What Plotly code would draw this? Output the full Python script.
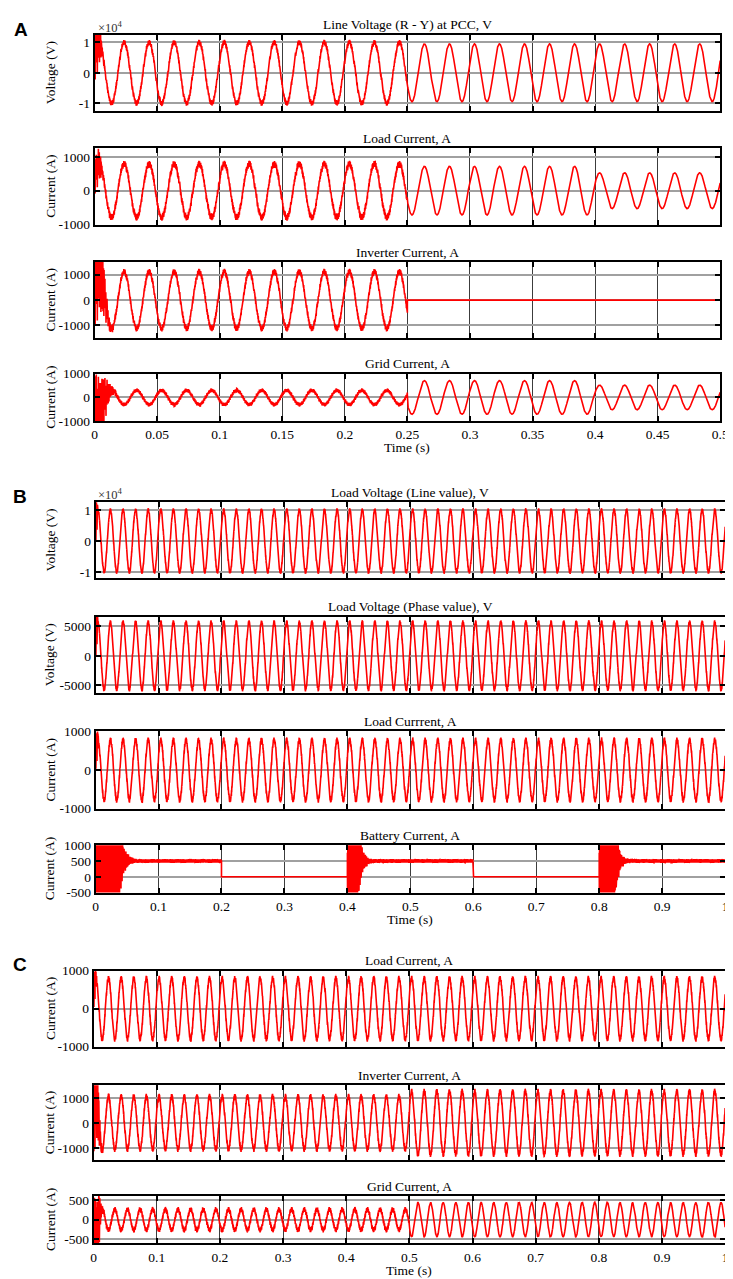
import numpy as np
import plotly.graph_objects as go

W, H = 733, 1279
FREQ_HZ = 50.0
PHASE_RAD = 0.44
DT = 2.5e-5

# ---------------- data ----------------
# Panel A (0 - 0.5 s)
A_T_END = 0.5
A_XTICKS = [0, 0.05, 0.1, 0.15, 0.2, 0.25, 0.3, 0.35, 0.4, 0.45, 0.5]
A_XTICK_TEXT = ["0", "0.05", "0.1", "0.15", "0.2", "0.25", "0.3", "0.35", "0.4", "0.45", "0.5"]

A1_SEG_T = [0.0, 0.25]
A1_AMP = [10000, 9500]
A1_RIPPLE = [900, 0]
A1_BURSTS = [(0.0, 0.004, 0.0015, 7000)]

A2_SEG_T = [0.0, 0.25, 0.4]
A2_AMP = [790, 720, 530]
A2_RIPPLE = [100, 0, 0]
A2_BURSTS = [(0.0, 0.004, 0.002, 450)]

A3_SEG_T = [0.0, 0.25]
A3_AMP = [1120, 0]
A3_RIPPLE = [120, 0]
A3_BURSTS = [(0.0, 0.006, 0.003, 1500)]

A4_SEG_T = [0.0, 0.25, 0.4]
A4_AMP = [-300, 710, 520]
A4_RIPPLE = [80, 0, 0]
A4_BURSTS = [(0.0, 0.007, 0.004, 1100)]

# Panel B (0 - 1 s)
BC_T_END = 1.0
BC_XTICKS = [0, 0.1, 0.2, 0.3, 0.4, 0.5, 0.6, 0.7, 0.8, 0.9, 1.0]
BC_XTICK_TEXT = ["0", "0.1", "0.2", "0.3", "0.4", "0.5", "0.6", "0.7", "0.8", "0.9", "1"]

B1_SEG_T = [0.0]
B1_AMP = [10000]
B1_RIPPLE = [600]
B1_BURSTS = [(0.0, 0.002, 0.001, 5000)]

B2_SEG_T = [0.0]
B2_AMP = [5700]
B2_RIPPLE = [350]
B2_BURSTS = [(0.0, 0.002, 0.001, 3000)]

B3_SEG_T = [0.0]
B3_AMP = [780]
B3_RIPPLE = [70]
B3_BURSTS = [(0.0, 0.003, 0.0015, 350)]

B4_SEG_T = [0.0, 0.2, 0.4, 0.6, 0.8]
B4_LEVEL = [500, 0, 500, 0, 500]
B4_RIPPLE = [55, 0, 55, 0, 55]
B4_BURSTS = [(0.0, 0.032, 0.007, 2500), (0.4, 0.012, 0.006, 2500), (0.8, 0.020, 0.006, 2500)]

# Panel C (0 - 1 s)
C1_SEG_T = [0.0]
C1_AMP = [800]
C1_RIPPLE = [70]
C1_BURSTS = [(0.0, 0.003, 0.0015, 350)]

C2_SEG_T = [0.0, 0.5]
C2_AMP = [1060, 1260]
C2_RIPPLE = [110, 110]
C2_BURSTS = [(0.0, 0.006, 0.003, 1600)]

C3_SEG_T = [0.0, 0.5]
C3_AMP = [-260, -430]
C3_RIPPLE = [60, 15]
C3_BURSTS = [(0.0, 0.008, 0.003, 700)]

RIPPLE_HZ = [2150, 3470, 5230]
RIPPLE_W = [0.5, 0.35, 0.25]
BURST_HZ = [1730, 2910, 4190]
BURST_W = [0.55, 0.35, 0.3]


def seg_values(t, seg_t, vals):
    idx = np.clip(np.searchsorted(seg_t, t, side="right") - 1, 0, len(vals) - 1)
    return np.asarray(vals, float)[idx]


def burst_env(t, bursts):
    env = np.zeros_like(t)
    for start, full, tau, amp in bursts:
        e = np.where(t < start, 0.0,
                     np.where(t < start + full, amp, amp * np.exp(-(t - start - full) / tau)))
        env = np.maximum(env, e)
    return env


def waveform(t_end, seg_t, amp, ripple, bursts, level=None):
    t = np.arange(0.0, t_end + DT / 2, DT)
    y = seg_values(t, seg_t, amp) * np.sin(2 * np.pi * FREQ_HZ * t + PHASE_RAD)
    rip = sum(w * np.sin(2 * np.pi * f * t + k) for k, (f, w) in enumerate(zip(RIPPLE_HZ, RIPPLE_W)))
    y = y + seg_values(t, seg_t, ripple) * rip
    bs = sum(w * np.sin(2 * np.pi * f * t + 2 * k) for k, (f, w) in enumerate(zip(BURST_HZ, BURST_W)))
    y = y + burst_env(t, bursts) * bs
    if level is not None:
        y = y + seg_values(t, seg_t, level)
    return np.round(y, 1)


# ---------------- layout geometry (pixels) ----------------
SUBPLOTS = [
    dict(title="Line Voltage (R - Y) at PCC, V", ytitle="Voltage (V)", T=A_T_END,
         y=waveform(A_T_END, A1_SEG_T, A1_AMP, A1_RIPPLE, A1_BURSTS),
         box=(20, 97), xl=(85, 721), yr=[-12500, 12500], yt=[-10000, 0, 10000], ytt=["-1", "0", "1"], bottom=False),
    dict(title="Load Current, A", ytitle="Current (A)", T=A_T_END,
         y=waveform(A_T_END, A2_SEG_T, A2_AMP, A2_RIPPLE, A2_BURSTS),
         box=(135, 212), xl=(85, 721), yr=[-1000, 1250], yt=[-1000, 0, 1000], ytt=["-1000", "0", "1000"], bottom=False),
    dict(title="Inverter Current, A", ytitle="Current (A)", T=A_T_END,
         y=waveform(A_T_END, A3_SEG_T, A3_AMP, A3_RIPPLE, A3_BURSTS),
         box=(250, 327), xl=(85, 721), yr=[-1500, 1500], yt=[-1000, 0, 1000], ytt=["-1000", "0", "1000"], bottom=False),
    dict(title="Grid Current, A", ytitle="Current (A)", T=A_T_END,
         y=waveform(A_T_END, A4_SEG_T, A4_AMP, A4_RIPPLE, A4_BURSTS),
         box=(363, 411), xl=(85, 721), yr=[-1000, 1000], yt=[-1000, 0, 1000], ytt=["-1000", "0", "1000"], bottom=True),
    dict(title="Load Voltage (Line value), V", ytitle="Voltage (V)", T=BC_T_END,
         y=waveform(BC_T_END, B1_SEG_T, B1_AMP, B1_RIPPLE, B1_BURSTS),
         box=(493, 570), xl=(86, 726), yr=[-12000, 12500], yt=[-10000, 0, 10000], ytt=["-1", "0", "1"], bottom=False),
    dict(title="Load Voltage (Phase value), V", ytitle="Voltage (V)", T=BC_T_END,
         y=waveform(BC_T_END, B2_SEG_T, B2_AMP, B2_RIPPLE, B2_BURSTS),
         box=(609, 686), xl=(86, 726), yr=[-6300, 6600], yt=[-5000, 0, 5000], ytt=["-5000", "0", "5000"], bottom=False),
    dict(title="Load Currrent, A", ytitle="Current (A)", T=BC_T_END,
         y=waveform(BC_T_END, B3_SEG_T, B3_AMP, B3_RIPPLE, B3_BURSTS),
         box=(725, 803), xl=(86, 726), yr=[-1000, 1000], yt=[-1000, 0, 1000], ytt=["-1000", "0", "1000"], bottom=False),
    dict(title="Battery Current, A", ytitle="Current (A)", T=BC_T_END,
         y=waveform(BC_T_END, B4_SEG_T, [0] * len(B4_SEG_T), B4_RIPPLE, B4_BURSTS, level=B4_LEVEL),
         box=(840, 888), xl=(86, 726), yr=[-500, 1000], yt=[-500, 0, 500, 1000], ytt=["-500", "0", "500", "1000"], bottom=True),
    dict(title="Load Current, A", ytitle="Current (A)", T=BC_T_END,
         y=waveform(BC_T_END, C1_SEG_T, C1_AMP, C1_RIPPLE, C1_BURSTS),
         box=(967, 1044), xl=(84, 726), yr=[-1000, 1000], yt=[-1000, 0, 1000], ytt=["-1000", "0", "1000"], bottom=False),
    dict(title="Inverter Current, A", ytitle="Current (A)", T=BC_T_END,
         y=waveform(BC_T_END, C2_SEG_T, C2_AMP, C2_RIPPLE, C2_BURSTS),
         box=(1083, 1159), xl=(84, 726), yr=[-1500, 1500], yt=[-1000, 0, 1000], ytt=["-1000", "0", "1000"], bottom=False),
    dict(title="Grid Current, A", ytitle="Current (A)", T=BC_T_END,
         y=waveform(BC_T_END, C3_SEG_T, C3_AMP, C3_RIPPLE, C3_BURSTS),
         box=(1195, 1243), xl=(84, 726), yr=[-600, 600], yt=[-500, 0, 500], ytt=["-500", "0", "500"], bottom=True),
]

PANEL_LETTERS = [("A", 10, 15), ("B", 9, 487), ("C", 9, 961)]
SCALE_NOTES = [(86, 12), (86, 485)]

SERIF = "Liberation Serif"
FS = 13.5


def px(x):
    return x / W


def py(y):
    return 1 - y / H


fig = go.Figure()
layout = dict(width=W, height=H, margin=dict(l=0, r=0, t=0, b=0),
              paper_bgcolor="white", plot_bgcolor="white", showlegend=False,
              font=dict(family=SERIF, size=FS, color="black"))
annotations = []

for i, sp in enumerate(SUBPLOTS, start=1):
    xa = "xaxis" if i == 1 else f"xaxis{i}"
    ya = "yaxis" if i == 1 else f"yaxis{i}"
    xr = "x" if i == 1 else f"x{i}"
    yr = "y" if i == 1 else f"y{i}"
    top, bot = sp["box"]
    l, r = sp["xl"]
    fig.add_trace(go.Scatter(x0=0, dx=DT, y=sp["y"], mode="lines", xaxis=xr, yaxis=yr,
                             line=dict(color="#ff0000", width=1.6), hoverinfo="skip"))
    ticks = A_XTICKS if sp["T"] == A_T_END else BC_XTICKS
    ticktext = A_XTICK_TEXT if sp["T"] == A_T_END else BC_XTICK_TEXT
    layout[xa] = dict(domain=[px(l), px(r)], anchor=yr, range=[0, sp["T"]],
                      tickvals=ticks, ticktext=ticktext, showticklabels=sp["bottom"],
                      showgrid=True, gridcolor="#3c3c3c", gridwidth=1.3,
                      showline=True, linecolor="black", linewidth=2, mirror="ticks",
                      ticks="inside", ticklen=5, tickwidth=1.5, tickcolor="black",
                      zeroline=False, tickfont=dict(family=SERIF, size=FS))
    layout[ya] = dict(domain=[py(bot), py(top)], anchor=xr, range=sp["yr"],
                      tickvals=sp["yt"], ticktext=sp["ytt"],
                      showgrid=True, gridcolor="#a0a0a0", gridwidth=1.5,
                      showline=True, linecolor="black", linewidth=2, mirror="ticks",
                      ticks="inside", ticklen=5, tickwidth=1.5, tickcolor="black",
                      zeroline=False, tickfont=dict(family=SERIF, size=FS))
    annotations.append(dict(text=sp["title"], x=px((l + r) / 2), y=py(top - 10), xref="paper", yref="paper",
                            showarrow=False, xanchor="center", yanchor="middle",
                            font=dict(family=SERIF, size=FS)))
    annotations.append(dict(text=sp["ytitle"], x=px(40), y=py((top + bot) / 2), xref="paper", yref="paper",
                            showarrow=False, textangle=-90, xanchor="center", yanchor="middle",
                            font=dict(family=SERIF, size=FS)))
    if sp["bottom"]:
        annotations.append(dict(text="Time (s)", x=px((l + r) / 2), y=py(bot + 27), xref="paper", yref="paper",
                                showarrow=False, xanchor="center", yanchor="middle",
                                font=dict(family=SERIF, size=FS)))

for letter, x, y in PANEL_LETTERS:
    annotations.append(dict(text=f"<b>{letter}</b>", x=px(x), y=py(y), xref="paper", yref="paper",
                            showarrow=False, xanchor="center", yanchor="middle",
                            font=dict(family="Liberation Sans", size=19, color="black")))
for x, y in SCALE_NOTES:
    annotations.append(dict(text="×10<sup>4</sup>", x=px(x), y=py(y), xref="paper", yref="paper",
                            showarrow=False, xanchor="left", yanchor="middle",
                            font=dict(family=SERIF, size=12.5, color="#333")))

layout["annotations"] = annotations
fig.update_layout(**layout)
fig.write_html("out.html")
